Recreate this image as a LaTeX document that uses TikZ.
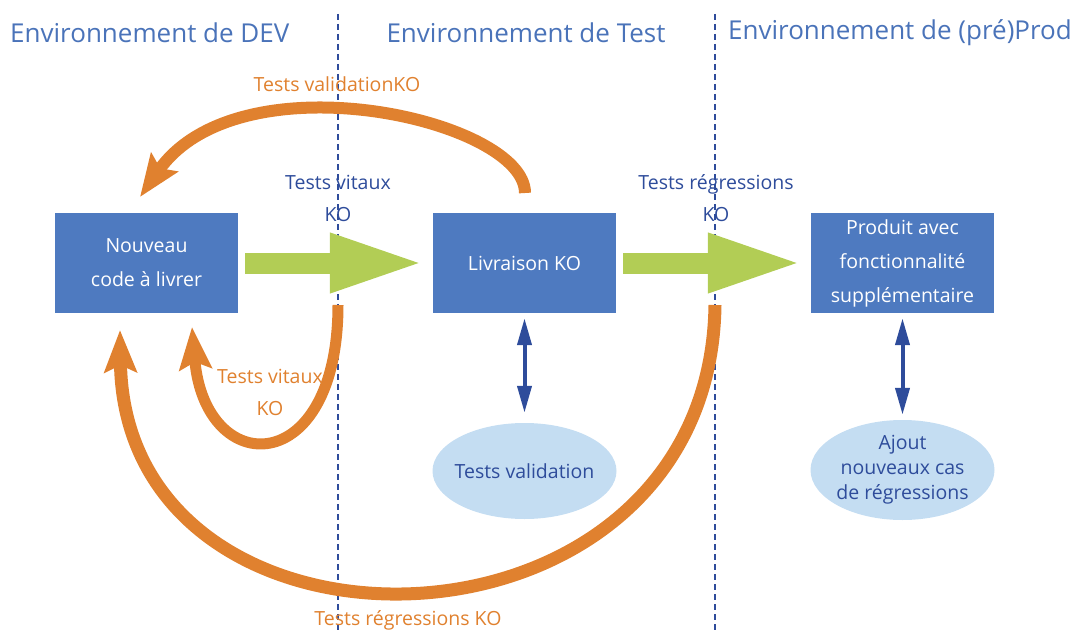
\documentclass[tikz,border=0pt]{standalone}
\usepackage{fontspec}
\setmainfont{Open Sans}
\usetikzlibrary{arrows.meta,positioning,shapes.geometric}

\definecolor{bleuboite}{HTML}{4E7AC0}
\definecolor{bleutitre}{HTML}{4A73B9}
\definecolor{bleufonce}{HTML}{2E4C9B}
\definecolor{bleuclair}{HTML}{C4DDF2}
\definecolor{orangeko}{HTML}{E0812F}
\definecolor{vertfl}{HTML}{B2CD55}

\begin{document}
\begin{tikzpicture}[x=1pt,y=-1pt,node distance=378pt]

  \tikzstyle{boite}=[rectangle,fill=bleuboite,text=white,minimum width=183pt,minimum height=100pt,align=center,font=\fontsize{19.5}{34}\selectfont]
  \tikzstyle{bulle}=[ellipse,fill=bleuclair,text=bleufonce,minimum width=184pt,minimum height=96pt,inner xsep=-7pt,inner ysep=-4pt,align=center,font=\fontsize{19.5}{25}\selectfont]
  \tikzstyle{titre}=[text=bleutitre,inner sep=0pt,font=\fontsize{26}{30}\selectfont]
  \tikzstyle{texto}=[text=bleufonce,align=center,font=\fontsize{19.5}{32}\selectfont]
  \tikzstyle{retour}=[draw=orangeko,line width=12pt,-{Stealth[length=42pt,width=32pt,inset=7pt]}]
  \tikzstyle{avance}=[draw=vertfl,line width=21pt,-{Triangle[length=95pt,width=54pt]}]
  \tikzstyle{lien}=[draw=bleufonce,line width=4pt,{Triangle[length=27pt,width=14pt]}-{Triangle[length=27pt,width=14pt]}]
  \tikzstyle{limite}=[draw=bleufonce,line width=1.5pt,dash pattern=on 6pt off 4pt]

  \useasboundingbox (0,0) rectangle (1077,634);

  % separations
  \coordinate (l1h) at (338,14);
  \coordinate (l1b) at (338,634);
  \coordinate (l2h) at (715,14);
  \coordinate (l2b) at (715,634);
  \draw [limite] (l1h) -- (l1b);
  \draw [limite] (l2h) -- (l2b);

  \node [titre,anchor=west] (hdev) at (10,33) {Environnement de DEV};
  \node [titre] (htest) at (526,33) {Environnement de Test};
  \node [titre,anchor=east] (hprod) at (1072,33) {Environnement de (pré)Prod};

  \node [boite] (dev) at (146.5,263) {Nouveau\\code à livrer};
  \node [boite] (test) [right of=dev] {Livraison KO};
  \node [boite] (prod) [right of=test] {Produit avec\\fonctionnalité\\supplémentaire};

  \node [bulle] (valid) [below of=test,node distance=208pt] {Tests validation};
  \node [bulle,minimum height=100pt] (ajout) [below of=prod,node distance=207pt] {Ajout\\nouveaux cas\\de régressions};

  \draw [avance,shorten <=7pt,shorten >=8pt] (dev) -- (test);
  \draw [avance,shorten <=7pt,shorten >=8pt] (test) -- (prod);

  \draw [lien,shorten <=5pt,shorten >=10pt] (test) -- (valid);
  \draw [lien,shorten <=5pt,shorten >=5pt] (prod) -- (ajout);

  % retours KO
  \coordinate (vd) at (525,193);
  \coordinate (va) at (140,197);
  \draw [retour] (vd) .. controls (525,120) and (240,55) .. (va);

  \coordinate (kd) at (338,305);
  \coordinate (ka) at (192,327);
  \draw [retour,line width=11pt] (kd) .. controls (338,480) and (205,480) .. (ka);

  \coordinate (rd) at (715,305);
  \coordinate (ra) at (120,330);
  \draw [retour,line width=13pt] (rd) .. controls (710,675) and (125,685) .. (ra);

  \node [texto] (tv) at (338,198) {Tests vitaux\\KO};
  \node [texto] (tr) at (716,198) {Tests régressions\\KO};
  \node [texto,text=orangeko] (tvko) at (270,392) {Tests vitaux\\KO};
  \node [texto,text=orangeko] (tval) at (337,84) {Tests validationKO};
  \node [texto,text=orangeko] (trko) at (408,620) {Tests régressions KO};

\end{tikzpicture}
\end{document}
